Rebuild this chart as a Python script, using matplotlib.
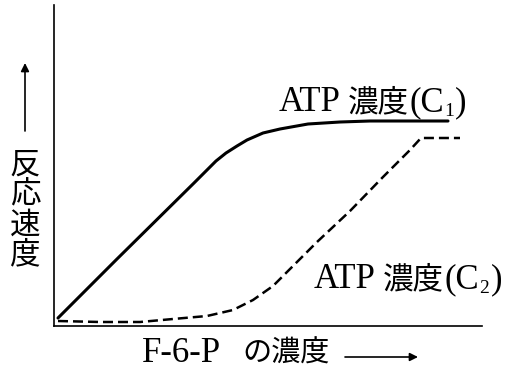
import matplotlib
matplotlib.use("Agg")
import matplotlib.pyplot as plt

LATIN = ['Liberation Serif', 'Noto Sans CJK JP']
CJK = ['Noto Sans CJK JP']
plt.rcParams['font.family'] = LATIN

# curve points (x: F-6-P conc., y: rate), arbitrary units
c1_x = [4, 63, 140, 152, 162, 172, 183, 193, 209, 226, 254, 286, 316, 394]
c1_y = [8, 67, 143, 155, 165, 173, 180, 186, 193, 197, 202, 204, 205, 205]

c2_x = [4, 46, 86, 119, 153, 179, 199, 219, 236, 263, 296, 329, 356, 367, 406]
c2_y = [5, 4, 4, 7, 10, 16, 26, 40, 57, 84, 115, 149, 176, 188, 188]

label_c1 = ('ATP', '濃度', '(C', '1', ')')
label_c2 = ('ATP', '濃度', '(C', '2', ')')
xlabel = ('F-6-P', 'の濃度')
ylabel = ['反', '応', '速', '度']

W, H = 508, 376
fig = plt.figure(figsize=(W / 100, H / 100), dpi=100)
ax = fig.add_axes([54 / W, 1 - 326 / H, 428 / W, 321 / H])
ax.set_xlim(0, 428)
ax.set_ylim(0, 321)

ax.plot(c1_x, c1_y, color='black', lw=2.2, solid_capstyle='round',
        solid_joinstyle='round')
ax.plot(c2_x, c2_y, color='black', lw=1.8, dashes=(4, 2))

for s in ['top', 'right']:
    ax.spines[s].set_visible(False)
for s in ['left', 'bottom']:
    ax.spines[s].set_linewidth(1.2)
ax.set_xticks([])
ax.set_yticks([])

renderer = fig.canvas.get_renderer()


def fx(px):
    return px / W


def fy(py):
    return 1 - py / H


def put(px, py, s, size, family, **kw):
    t = fig.text(fx(px), fy(py), s, fontsize=size, family=family,
                 ha='left', va='baseline', **kw)
    return t.get_window_extent(renderer).x1


def curve_label(px, py, parts):
    latin, kanji, paren, sub, close = parts
    x = put(px, py, latin, 25, LATIN)
    x = put(x + 7, py, kanji, 22, CJK)
    x = put(x + 1, py, paren, 25, LATIN)
    x = put(x, py + 5, sub, 14, LATIN)
    put(x + 1, py, close, 25, LATIN)


curve_label(279, 111, label_c1)
curve_label(314, 288, label_c2)

# y label: arrow and vertical characters
ax.annotate('', xy=(fx(25), fy(63)), xytext=(fx(25), fy(131)),
            xycoords='figure fraction', textcoords='figure fraction',
            arrowprops=dict(arrowstyle='-|>', lw=1.2, color='black',
                            mutation_scale=12, shrinkA=0, shrinkB=0))
for i, ch in enumerate(ylabel):
    fig.text(fx(25), fy(165 + i * 30), ch, fontsize=22, family=CJK,
             ha='center', va='center')

# x label and arrow
put(142, 362, xlabel[0], 25, LATIN)
put(242, 362, xlabel[1], 21, CJK)
ax.annotate('', xy=(fx(418), fy(357)), xytext=(fx(345), fy(357)),
            xycoords='figure fraction', textcoords='figure fraction',
            arrowprops=dict(arrowstyle='-|>', lw=1.2, color='black',
                            mutation_scale=12, shrinkA=0, shrinkB=0))

fig.savefig('out.png', dpi=100)
